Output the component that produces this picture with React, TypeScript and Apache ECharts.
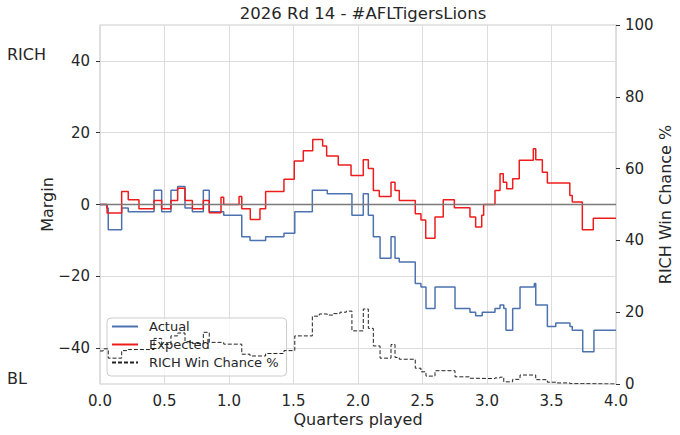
import React, { useEffect, useRef } from 'react';
import * as echarts from 'echarts';

const TITLE = '2026 Rd 14 - #AFLTigersLions';
const X_NAME = 'Quarters played';
const Y_NAME = 'Margin';
const Y2_NAME = 'RICH Win Chance %';
const TOP_TEAM = 'RICH';
const BOTTOM_TEAM = 'BL';

const marginTicks = [-40, -20, 0, 20, 40];

const actualTimes = [0, 0.052, 0.064, 0.168, 0.219, 0.419, 0.478, 0.55, 0.602, 0.659, 0.716, 0.801, 0.847, 0.959, 1.099, 1.163, 1.284, 1.426, 1.51, 1.646, 1.762, 1.953, 2.041, 2.08, 2.119, 2.171, 2.256, 2.287, 2.32, 2.444, 2.488, 2.527, 2.597, 2.752, 2.868, 2.912, 2.963, 3.062, 3.101, 3.13, 3.147, 3.199, 3.256, 3.367, 3.378, 3.468, 3.533, 3.643, 3.661, 3.742, 3.829, 4.0];
const actualMargin = [0, -1, -7, -1, -2, 4, -2, 4, 5, -1, -2, 4, -2, -3, -9, -10, -9, -8, -2, 4, 3, -3, 3, -3, -9, -15, -9, -15, -16, -22, -23, -29, -23, -29, -30, -31, -30, -29, -28, -29, -35, -29, -23, -22, -28, -34, -33, -34, -35, -41, -35, -35];

const expectedTimes = [0, 0.055, 0.168, 0.219, 0.302, 0.419, 0.478, 0.55, 0.602, 0.659, 0.716, 0.801, 0.847, 0.938, 0.959, 1.078, 1.099, 1.165, 1.24, 1.284, 1.426, 1.506, 1.576, 1.649, 1.726, 1.757, 1.847, 1.946, 2.041, 2.08, 2.119, 2.165, 2.256, 2.287, 2.32, 2.444, 2.488, 2.525, 2.597, 2.661, 2.747, 2.868, 2.912, 2.959, 2.974, 3.062, 3.101, 3.126, 3.153, 3.199, 3.25, 3.359, 3.378, 3.429, 3.468, 3.642, 3.661, 3.739, 3.824, 4.0];
const expectedMargin = [0, -2.4, 3.6, 1.3, -1.2, 1.1, -1.2, 1.1, 4.5, 1.1, -1.2, 1.1, -2.3, 2.0, 0, 2.2, -1.2, -4.2, -1.2, 3.6, 7.0, 12.1, 15.0, 18.1, 16.3, 13.5, 11.0, 8.1, 12.5, 10.0, 3.9, 2.2, 6.2, 3.9, 1.1, -2.6, -4.3, -9.4, -3.5, 1.3, -0.9, -3.5, -6.3, -3.0, 0, 3.9, 8.6, 6.2, 4.4, 7.2, 12.3, 15.5, 12.5, 9.0, 6.0, 2.5, 0.7, -7.0, -3.8, -3.8];

const winTimes = [0, 0.025, 0.064, 0.168, 0.219, 0.419, 0.478, 0.55, 0.602, 0.659, 0.716, 0.801, 0.847, 0.959, 1.099, 1.163, 1.284, 1.426, 1.51, 1.646, 1.7, 1.762, 1.81, 1.86, 1.91, 1.953, 2.041, 2.08, 2.119, 2.171, 2.256, 2.287, 2.32, 2.444, 2.488, 2.527, 2.597, 2.752, 2.868, 2.912, 3.062, 3.101, 3.13, 3.199, 3.256, 3.378, 3.468, 3.533, 3.643, 3.742, 4.0];
const winChance = [9.2, 9.8, 7.2, 9.3, 9.6, 12.7, 11.0, 13.4, 14.2, 11.8, 11.3, 14.4, 11.6, 11.1, 8.3, 7.8, 8.5, 9.3, 13.4, 18.9, 19.5, 19.2, 19.6, 20.0, 20.3, 14.8, 20.9, 15.5, 10.6, 7.2, 11.0, 7.4, 6.9, 4.4, 3.4, 2.2, 3.7, 2.0, 1.6, 1.5, 1.7, 1.9, 0.6, 1.3, 2.5, 1.2, 0.5, 0.3, 0.1, 0, 0];

const zip = (t: number[], v: number[]) => t.map((x, i) => [x, v[i]]);
const minus = (v: number) => String(v).replace('-', '\u2212');

const FONT = 'DejaVu Sans';
const TEXT = '#262626';
const GRIDC = '#dddddd';

export default function App() {
  const ref = useRef<HTMLDivElement>(null);
  useEffect(() => {
    const chart = echarts.init(ref.current!, null, { renderer: 'svg' });
    chart.setOption({
      animation: false,
      backgroundColor: '#ffffff',
      textStyle: { fontFamily: FONT },
      title: {
        text: TITLE,
        left: 358,
        textAlign: 'center',
        top: 0,
        textStyle: { fontFamily: FONT, fontSize: 16.5, fontWeight: 'normal', color: TEXT },
      },
      grid: {
        left: 100, right: 64, top: 25, bottom: 51,
        outerBoundsMode: 'none',
        containLabel: false,
        show: true, borderColor: '#cccccc', borderWidth: 1.2, backgroundColor: 'transparent',
      },
      legend: {
        orient: 'vertical',
        left: 107,
        top: 318,
        z: 4,
        data: ['Actual', 'Expected', Y2_NAME],
        itemWidth: 26,
        itemHeight: 14,
        itemGap: 5,
        itemStyle: { opacity: 0, color: 'rgba(0,0,0,0)', borderColor: 'rgba(0,0,0,0)', borderWidth: 0 },
        backgroundColor: 'rgba(255,255,255,0.8)',
        borderColor: '#cccccc',
        borderWidth: 1,
        borderRadius: 4,
        padding: [2, 8, 7, 4],
        textStyle: { fontFamily: FONT, fontSize: 13, color: TEXT, padding: [0, 0, 0, 6] },
      },
      xAxis: {
        type: 'value',
        min: 0,
        max: 4,
        interval: 0.5,
        name: X_NAME,
        nameLocation: 'middle',
        nameGap: 27,
        nameMoveOverlap: false,
        nameTextStyle: { fontFamily: FONT, fontSize: 16, color: TEXT },
        axisLine: { show: false },
        axisTick: { show: false },
        axisLabel: { fontFamily: FONT, fontSize: 15, color: TEXT, margin: 9, formatter: (v: number) => v.toFixed(1) },
        splitLine: { show: true, lineStyle: { color: GRIDC, width: 1 } },
      },
      yAxis: [
        {
          type: 'value',
          min: -50,
          max: 50,
          name: Y_NAME,
          nameLocation: 'middle',
          nameRotate: 90,
          nameGap: 45,
          nameMoveOverlap: false,
          nameTextStyle: { fontFamily: FONT, fontSize: 16, color: TEXT },
          axisLine: { show: false },
          axisTick: { show: true, customValues: marginTicks, length: 4, lineStyle: { color: '#333333', width: 1 } },
          axisLabel: { customValues: marginTicks, fontFamily: FONT, fontSize: 15, color: TEXT, margin: 10, formatter: minus },
          splitLine: { show: true, lineStyle: { color: GRIDC, width: 1 } },
        },
        {
          type: 'value',
          min: 0,
          max: 100,
          interval: 20,
          position: 'right',
          name: Y2_NAME,
          nameLocation: 'middle',
          nameRotate: 90,
          nameGap: 41,
          nameMoveOverlap: false,
          nameTextStyle: { fontFamily: FONT, fontSize: 16, color: TEXT },
          axisLine: { show: false },
          axisTick: { show: true, length: 4, lineStyle: { color: '#333333', width: 1 } },
          axisLabel: { fontFamily: FONT, fontSize: 15, color: TEXT, margin: 9 },
          splitLine: { show: false },
        },
      ],
      graphic: [
        { type: 'text', left: 7, top: 46, style: { text: TOP_TEAM, fontFamily: FONT, fontSize: 16, fill: TEXT } },
        { type: 'text', left: 7, top: 370, style: { text: BOTTOM_TEAM, fontFamily: FONT, fontSize: 16, fill: TEXT } },
      ],
      series: [
        {
          name: 'Actual',
          type: 'line',
          step: 'end',
          symbol: 'none',
          yAxisIndex: 0,
          data: zip(actualTimes, actualMargin),
          lineStyle: { color: '#4c72b0', width: 1.5 },
          itemStyle: { color: '#4c72b0' },
          z: 3,
          markLine: {
            silent: true,
            symbol: 'none',
            label: { show: false },
            lineStyle: { color: '#7a7a7a', type: 'solid', width: 1.3 },
            data: [{ yAxis: 0 }],
          },
        },
        {
          name: 'Expected',
          type: 'line',
          step: 'end',
          symbol: 'none',
          yAxisIndex: 0,
          data: zip(expectedTimes, expectedMargin),
          lineStyle: { color: '#ee1c1c', width: 1.5 },
          itemStyle: { color: '#ee1c1c' },
          z: 3,
        },
        {
          name: Y2_NAME,
          type: 'line',
          step: 'end',
          symbol: 'none',
          yAxisIndex: 1,
          data: zip(winTimes, winChance),
          lineStyle: { color: '#222222', width: 1, type: [4, 2] },
          itemStyle: { color: '#222222' },
          z: 5,
        },
      ],
    });
    return () => chart.dispose();
  }, []);
  return <div ref={ref} style={{ position: 'fixed', left: 0, top: 0, width: 680, height: 435 }} />;
}
